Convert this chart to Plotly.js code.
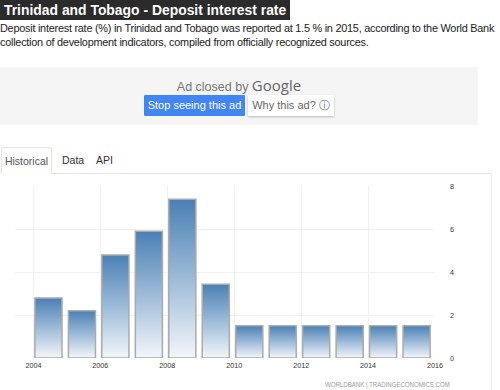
<!DOCTYPE html>
<html>
<head>
<meta charset="utf-8">
<script src="https://cdn.plot.ly/plotly-3.0.1.min.js"></script>
<style>
  html, body { margin: 0; padding: 0; background: #fff; width: 500px; height: 390px; overflow: hidden; font-family: "Liberation Sans", Arial, sans-serif; }
  #title { position: absolute; left: 0; top: 0; height: 20px; line-height: 20px; padding: 0 4px 0 4px; background: #2b2b2b; color: #fff; font-weight: bold; font-size: 13.9px; white-space: nowrap; }
  #desc { position: absolute; left: 0; top: 21px; width: 500px; font-size: 10.9px; letter-spacing: -0.25px; line-height: 14px; color: #222; white-space: nowrap; }
  #ad { position: absolute; left: 0; top: 67px; width: 478px; height: 58px; background: #f5f5f5; }
  #adtxt { position: absolute; left: 0; top: 8px; width: 478px; text-align: center; color: #777; font-size: 12.5px; }
  #adtxt span { font-size: 15px; color: #666; font-family: "Open Sans", "Liberation Sans", sans-serif; }
  #stop { position: absolute; left: 144px; top: 28px; width: 101px; height: 21px; background: #4285f4; color: #fff; font-size: 11px; line-height: 21px; text-align: center; border-radius: 1px; }
  #why { position: absolute; left: 248px; top: 28px; width: 86px; height: 21px; background: #fff; color: #666; font-size: 11px; line-height: 21px; text-align: center; box-shadow: 0 1px 2px rgba(0,0,0,0.25); }
  #tabline { position: absolute; left: 52px; top: 173px; width: 440px; height: 1px; background: #e3e3e3; }
  #tabH { position: absolute; left: 1px; top: 147px; width: 51px; height: 27px; border: 1px solid #e3e3e3; border-bottom: none; border-radius: 3px 3px 0 0; box-sizing: border-box; background: #fff; font-size: 10.5px; color: #555; line-height: 26px; text-align: center; }
  .tab { position: absolute; top: 147px; font-size: 10.5px; color: #333; line-height: 26px; }
  #panelR { position: absolute; left: 491px; top: 173px; width: 1px; height: 217px; background: #eeeeee; }
  #chart { position: absolute; left: 0; top: 174px; width: 492px; height: 216px; }
  #src { position: absolute; left: 325px; top: 380px; font-size: 7.8px; line-height: 10px; color: #9a9a9a; white-space: nowrap; transform: scaleX(0.78); transform-origin: left center; }
</style>
</head>
<body>
<div id="title">Trinidad and Tobago - Deposit interest rate</div>
<div id="desc">Deposit interest rate (%) in Trinidad and Tobago was reported at 1.5 % in 2015, according to the World Bank<br>collection of development indicators, compiled from officially recognized sources.</div>
<div id="ad">
  <div id="adtxt">Ad closed by <span>Google</span></div>
  <div id="stop">Stop seeing this ad</div>
  <div id="why">Why this ad? &#9432;</div>
</div>
<div id="tabline"></div>
<div id="tabH">Historical</div>
<div class="tab" style="left:62px">Data</div>
<div class="tab" style="left:96px">API</div>
<div id="panelR"></div>
<div id="chart"></div>
<div id="src">WORLDBANK | TRADINGECONOMICS.COM</div>
<script>
const years = [2004, 2005, 2006, 2007, 2008, 2009, 2010, 2011, 2012, 2013, 2014, 2015];
const rates = [2.79, 2.2, 4.79, 5.9, 7.38, 3.43, 1.5, 1.5, 1.5, 1.5, 1.5, 1.5];
const xTicks = [2004, 2006, 2008, 2010, 2012, 2014, 2016];
const yTicks = [0, 2, 4, 6, 8];

const trace = {
  type: 'bar',
  x: years,
  y: rates,
  offset: 0.045,
  width: 0.81,
  marker: { color: '#8aaed0', line: { color: '#ababab', width: 1.5 } },
  hoverinfo: 'x+y'
};

const layout = {
  width: 492, height: 216,
  margin: { l: 15, r: 57, t: 12, b: 32 },
  paper_bgcolor: 'rgba(0,0,0,0)',
  plot_bgcolor: '#fff',
  showlegend: false,
  bargap: 0,
  font: { family: '"Liberation Sans", Arial, sans-serif', size: 7.2, color: '#333' },
  xaxis: {
    range: [2003.45, 2016],
    tickvals: xTicks,
    ticktext: xTicks.map(String),
    showgrid: true, gridcolor: '#f1f1f1', gridwidth: 1,
    zeroline: false, showline: false, ticks: '',
    ticklabelstandoff: 2,
    fixedrange: true
  },
  yaxis: {
    side: 'right',
    range: [0, 8],
    tickvals: yTicks,
    showgrid: true, gridcolor: '#f1f1f1', gridwidth: 1,
    zeroline: false, showline: false, ticks: '',
    ticklabelstandoff: 14,
    fixedrange: true
  }
};

Plotly.newPlot('chart', [trace], layout, { displayModeBar: false, staticPlot: true }).then(gd => {
  const svg = gd.querySelector('svg.main-svg');
  const ns = 'http://www.w3.org/2000/svg';
  let defs = svg.querySelector('defs');
  if (!defs) { defs = document.createElementNS(ns, 'defs'); svg.insertBefore(defs, svg.firstChild); }
  const grad = document.createElementNS(ns, 'linearGradient');
  grad.setAttribute('id', 'barGrad');
  grad.setAttribute('x1', '0'); grad.setAttribute('y1', '0');
  grad.setAttribute('x2', '0'); grad.setAttribute('y2', '1');
  [['0%', '#4a80b4'], ['50%', '#9dbbd8'], ['100%', '#f3f6fa']].forEach(([o, c]) => {
    const s = document.createElementNS(ns, 'stop');
    s.setAttribute('offset', o); s.setAttribute('stop-color', c);
    grad.appendChild(s);
  });
  defs.appendChild(grad);
  gd.querySelectorAll('.bars .point path').forEach(p => { p.style.fill = 'url(#barGrad)'; });
});
</script>
</body>
</html>
